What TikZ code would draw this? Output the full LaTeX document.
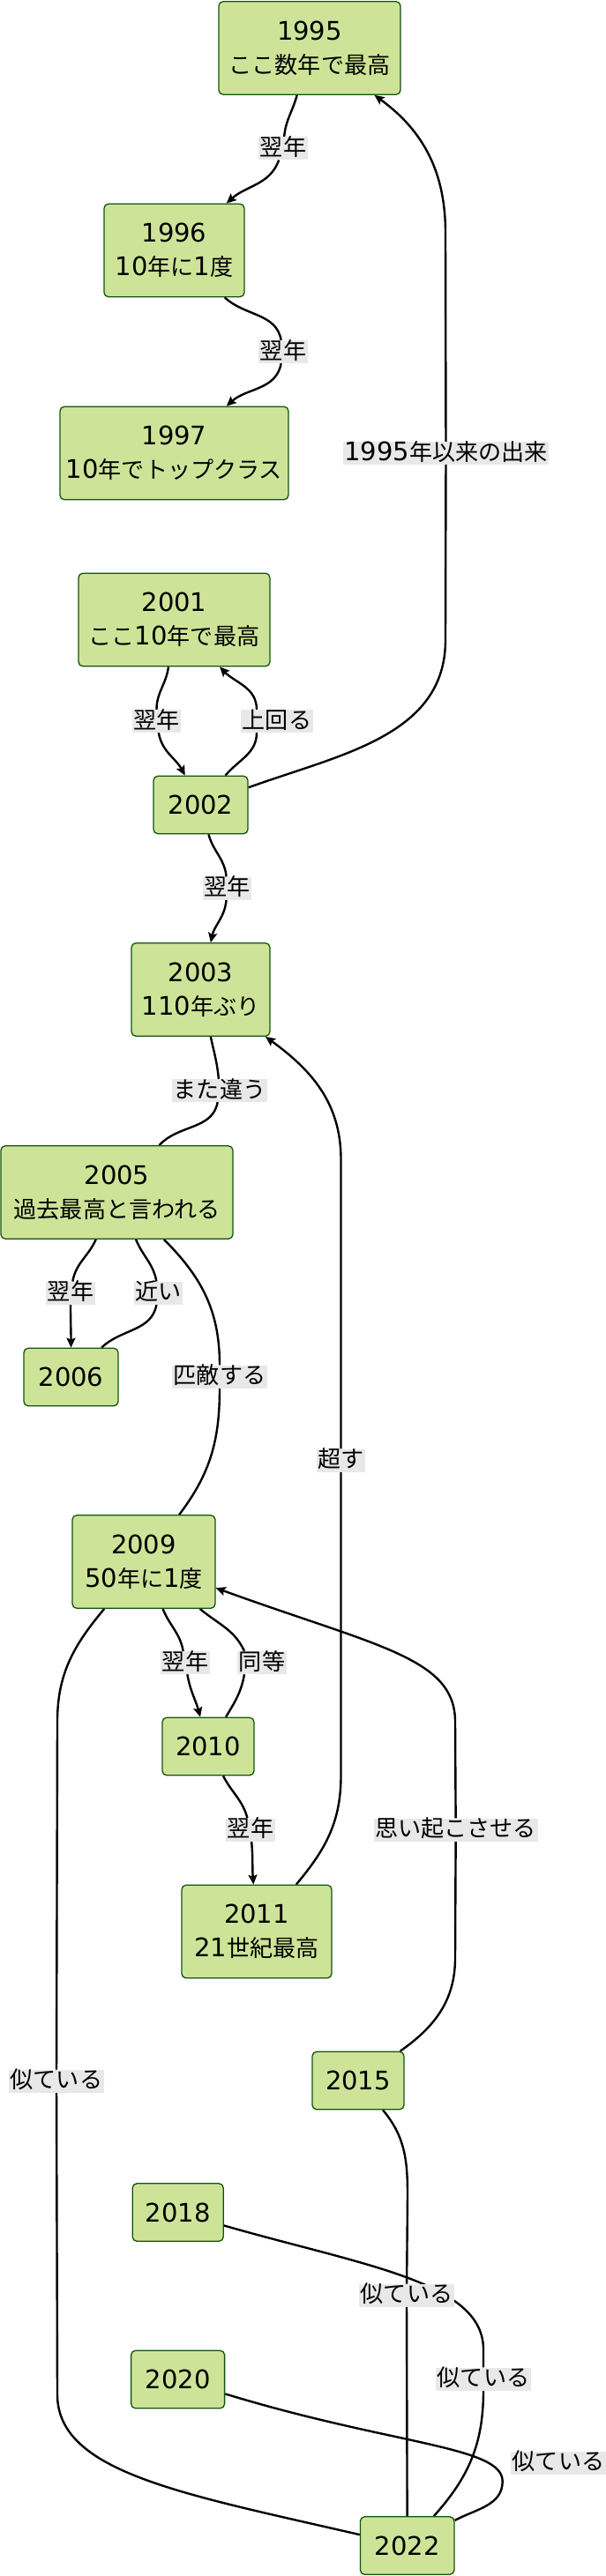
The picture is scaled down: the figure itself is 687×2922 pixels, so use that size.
\documentclass[tikz,border=0pt]{standalone}
\usepackage{fontspec}
\setmainfont{DejaVu Sans}
\newfontfamily\cjkfont{Noto Sans CJK JP}[Scale=0.9]
\newcommand{\jtxt}[1]{{\cjkfont #1}}
\usepackage{tikz}
\usetikzlibrary{arrows.meta, backgrounds}
\definecolor{boxfill}{HTML}{CDE498}
\definecolor{boxline}{HTML}{13540C}
\definecolor{lblfill}{HTML}{E8E8E8}

\begin{document}
\begin{tikzpicture}[
    x=1pt, y=1pt,
    yr/.style={
      rectangle, draw=boxline, fill=boxfill, line width=1.3pt,
      rounded corners=5pt, inner xsep=5pt, inner ysep=0pt,
      minimum width=#1, minimum height=65.5pt,
      align=center, font=\fontsize{29}{38}\selectfont
    },
    yr/.default=105pt,
    yr2/.style={yr=#1, minimum height=105.5pt},
    lbl/.style={fill=lblfill, inner xsep=1.5pt, inner ysep=1pt,
                text height=20pt, text depth=4pt,
                font=\fontsize{29}{38}\selectfont},
    arr/.style={-{Stealth[length=11pt, width=10pt, inset=2pt]}, line width=2.4pt},
    lnk/.style={line width=2.4pt},
  ]
  \useasboundingbox (0,0) rectangle (687,-2922);

  %% ── Year boxes (top → bottom) ─────────────────────────────────────────
  \node[yr2=206pt]  (n1995) at (351,-54.5)     {1995\\\jtxt{ここ数年で最高}};
  \node[yr2=159pt]  (n1996) at (197.5,-284)    {1996\\10\jtxt{年に}1\jtxt{度}};
  \node[yr2=259pt]  (n1997) at (197.5,-514)    {1997\\10\jtxt{年でトップクラス}};
  \node[yr2=217pt]  (n2001) at (197.5,-703)    {2001\\\jtxt{ここ}10\jtxt{年で最高}};
  \node[yr=107pt]   (n2002) at (227.5,-913)    {2002};
  \node[yr2=157pt]  (n2003) at (227.5,-1122.5) {2003\\110\jtxt{年ぶり}};
  \node[yr2=263pt]  (n2005) at (132.5,-1352.5) {2005\\\jtxt{過去最高と言われる}};
  \node[yr=107pt]   (n2006) at (80.5,-1562)    {2006};
  \node[yr2=162pt]  (n2009) at (163,-1771.5)   {2009\\50\jtxt{年に}1\jtxt{度}};
  \node[yr=104pt]   (n2010) at (236,-1981)     {2010};
  \node[yr2=170pt]  (n2011) at (291,-2191)     {2011\\21\jtxt{世紀最高}};
  \node[yr=104pt]   (n2015) at (406,-2360)     {2015};
  \node[yr=103pt]   (n2018) at (201.7,-2509.5) {2018};
  \node[yr=106pt]   (n2020) at (201.6,-2699)   {2020};
  \node[yr=106.5pt] (n2022) at (461.7,-2887.5) {2022};

  %% ── Edge labels ───────────────────────────────────────────────────────
  \node[lbl] (l1)  at (321,-168.4)    {\jtxt{翌年}};
  \node[lbl] (l2)  at (321,-399)      {\jtxt{翌年}};
  \node[lbl] (l3)  at (505.5,-514)    {1995\jtxt{年以来の出来}};
  \node[lbl] (l4)  at (177.5,-818)    {\jtxt{翌年}};
  \node[lbl] (l5)  at (314,-818)      {\jtxt{上回る}};
  \node[lbl] (l6)  at (257.7,-1007.6) {\jtxt{翌年}};
  \node[lbl] (l7)  at (249,-1237)     {\jtxt{また違う}};
  \node[lbl] (l8)  at (80,-1466.7)    {\jtxt{翌年}};
  \node[lbl] (l9)  at (179.7,-1466.7) {\jtxt{近い}};
  \node[lbl] (l10) at (249,-1561.6)   {\jtxt{匹敵する}};
  \node[lbl] (l11) at (386.5,-1656.6) {\jtxt{超す}};
  \node[lbl] (l12) at (210,-1886)     {\jtxt{翌年}};
  \node[lbl] (l13) at (297,-1886)     {\jtxt{同等}};
  \node[lbl] (l14) at (284,-2075.5)   {\jtxt{翌年}};
  \node[lbl] (l15) at (516.7,-2075.5) {\jtxt{思い起こさせる}};
  \node[lbl] (l16) at (64,-2360.7)    {\jtxt{似ている}};
  \node[lbl] (l17) at (461,-2603.7)   {\jtxt{似ている}};
  \node[lbl] (l18) at (548,-2698.6)   {\jtxt{似ている}};
  \node[lbl] (l19) at (633,-2793.5)   {\jtxt{似ている}};

  %% ── Bends of the long links ───────────────────────────────────────────
  \coordinate (c3a)  at (505,-726);
  \coordinate (c3b)  at (505,-264);
  \coordinate (c11a) at (386.5,-2014);
  \coordinate (c11b) at (386.5,-1315);
  \coordinate (c15a) at (516,-2221);
  \coordinate (c15b) at (516,-1953);
  \coordinate (c16a) at (65,-1953);
  \coordinate (c16b) at (65,-2716);
  \coordinate (c17)  at (462,-2490);
  \coordinate (c18)  at (548,-2665);
  \coordinate (c19)  at (569.7,-2814.5);

  %% ── Links (behind boxes and labels) ───────────────────────────────────
  \begin{scope}[on background layer]
    \fill[white] (0,0) rectangle (687,-2922);

    %  1995 → 1996 → 1997
    \draw[arr] (n1995) to[out=-105,in=85] (l1) to[out=-110,in=42] (n1996);
    \draw[arr] (n1996) to[out=-43,in=100] (l2) to[out=-100,in=42] (n1997);

    %  2002 back up to 1995
    \draw[arr] (n2002) to[out=20,in=-90] (c3a) -- (l3) -- (c3b)
        to[out=90,in=-36] (n1995);

    %  2001 ↔ 2002, 2002 → 2003
    \draw[arr] (n2001) to[out=-97,in=90] (l4) to[out=-80,in=118] (n2002);
    \draw[arr] (n2002) to[out=50,in=-90] ([xshift=-23pt]l5.south)
        ([xshift=-23pt]l5.north) to[out=90,in=-46] (n2001);
    \draw[arr] (n2002) to[out=-75,in=95] (l6) to[out=-95,in=78] (n2003);

    %  2003 — 2005, 2005 → 2006 / 2009
    \draw[lnk] (n2003) to[out=-78,in=95] (l7) to[out=-100,in=48] (n2005);
    \draw[arr] (n2005) to[out=-114,in=80] (l8) to[out=-90,in=90] (n2006);
    \draw[lnk] (n2005) to[out=-68,in=100] (l9) to[out=-100,in=44] (n2006);
    \draw[lnk] (n2005) to[out=-45,in=90] (l10) to[out=-90,in=53] (n2009);

    %  2011 back up to 2003
    \draw[arr] (n2011) to[out=50,in=-90] (c11a) -- (l11) -- (c11b)
        to[out=90,in=-36] (n2003);

    %  2009 → 2010 → 2011
    \draw[arr] (n2009) to[out=-68,in=100] (l12) to[out=-80,in=105] (n2010);
    \draw[lnk] (n2009) to[out=-40,in=115] ([xshift=-20pt]l13.north)
        ([xshift=-20pt]l13.south) to[out=-100,in=59] (n2010);
    \draw[arr] (n2010) to[out=-63,in=105] (l14) to[out=-85,in=94] (n2011);

    %  2015 back up to 2009
    \draw[arr] (n2015) to[out=35,in=-90] (c15a) -- (l15) -- (c15b)
        to[out=90,in=-20,out looseness=0.6,in looseness=1.6] (n2009);

    %  似ている into 2022
    \draw[lnk] (n2009) to[out=-130,in=90] (c16a) -- (l16) -- (c16b)
        to[out=-90,in=167,out looseness=0.6,in looseness=1.4] (n2022);
    \draw[lnk] (n2018) to[out=-16,in=90,out looseness=1.3,in looseness=0.6] (c18)
        -- (l18) to[out=-90,in=48] (n2022);
    \draw[lnk] (n2015) to[out=-50,in=90] (c17) -- (l17) -- (n2022);
    \draw[lnk] (n2020) to[out=-17,in=90,out looseness=1.54,in looseness=0.31] (c19)
        to[out=-90,in=28] (n2022);
  \end{scope}

\end{tikzpicture}
\end{document}
